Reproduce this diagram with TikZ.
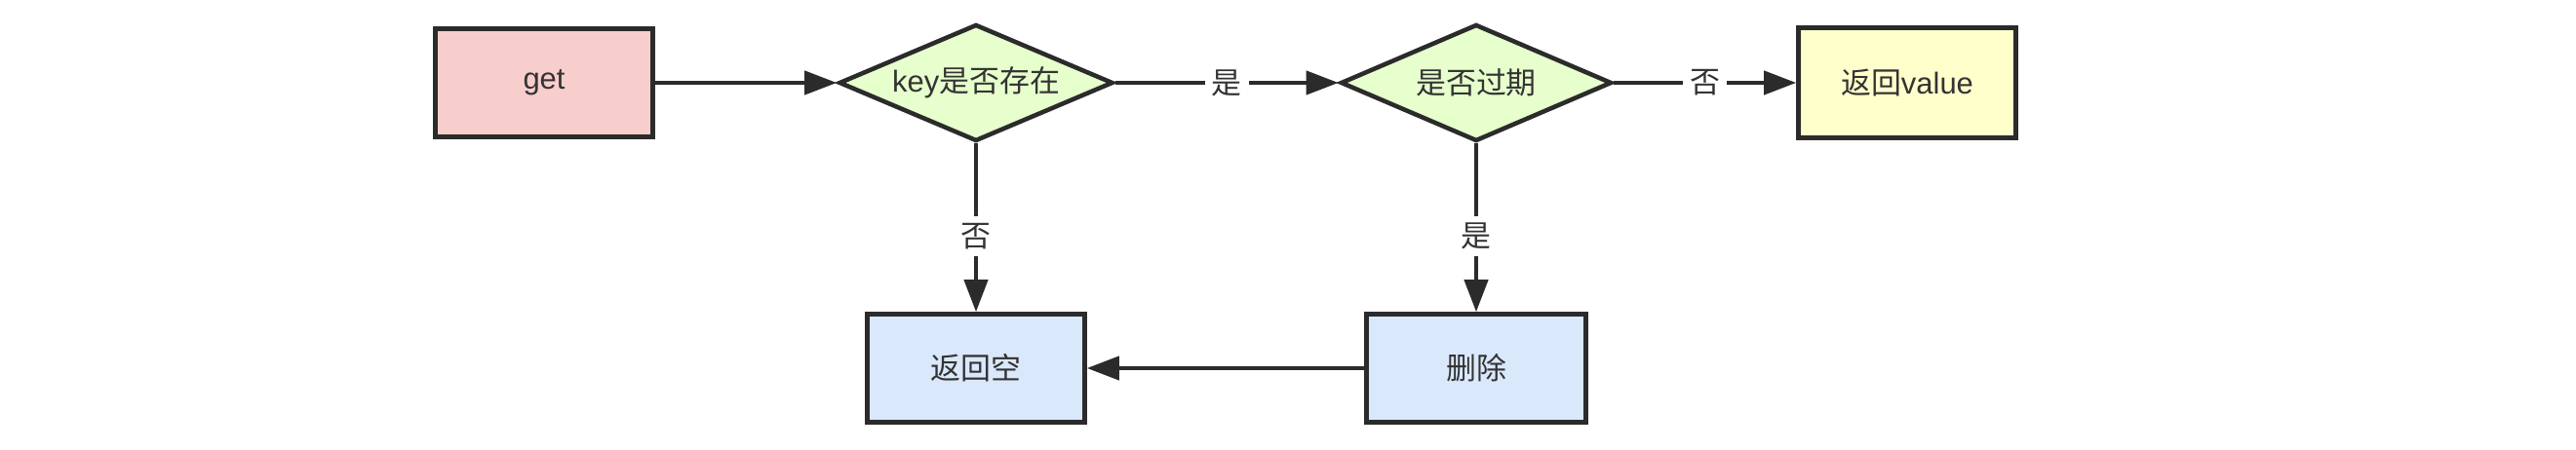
\documentclass[tikz,border=0pt]{standalone}
\usepackage{fontspec}
\setmainfont{Liberation Sans}
\newfontfamily\cjk{Noto Sans CJK SC}
\usepackage{tikz}
\usetikzlibrary{arrows.meta,calc,positioning,shapes.geometric}
\definecolor{Ink}{HTML}{2B2B2B}
\definecolor{TextInk}{HTML}{333333}
\definecolor{GetPink}{HTML}{F8CECC}
\definecolor{CheckGreen}{HTML}{E6FFCC}
\definecolor{ValueYellow}{HTML}{FFFFCC}
\definecolor{StepBlue}{HTML}{DAE8FC}

\begin{document}
\begin{tikzpicture}[font=\fontsize{8.8}{10}\selectfont, text=TextInk,
    box/.style={rectangle,draw=Ink,line width=1.3pt,minimum width=2.23cm,minimum height=1.11cm,inner sep=0pt},
    check/.style={diamond,draw=Ink,line width=1.3pt,fill=CheckGreen,aspect=2.3,minimum height=1.2cm,inner sep=0pt},
    flow/.style={draw=Ink,line width=1.2pt,-{Triangle[length=3.3mm,width=2.4mm]}},
    yesno/.style={fill=white,inner sep=2pt,font=\fontsize{8.8}{10}\selectfont\cjk}]
    \useasboundingbox (0,0) rectangle (26.42,4.62);
    \node[box,fill=GetPink] (get) at (5.58,3.77) {get};
    \node[check,minimum width=2.81cm] (exists) at (10.01,3.77) {key{\cjk 是否存在}};
    \node[check,minimum width=2.78cm] (expired) at (15.14,3.77) {\cjk 是否过期};
    \node[box,fill=ValueYellow,minimum height=1.13cm] (value) at (19.56,3.77) {{\cjk 返回}value};
    \node[box,fill=StepBlue] (empty) at (10.01,0.84) {\cjk 返回空};
    \node[box,fill=StepBlue,minimum width=2.25cm] (remove) at (15.14,0.84) {\cjk 删除};
    \draw[flow] (get) -- (exists);
    \draw[flow] (exists) -- node[yesno] {是} (expired);
    \draw[flow] (expired) -- node[yesno] {否} (value);
    \draw[flow] (exists) -- node[yesno,pos=0.55] {否} (empty);
    \draw[flow] (expired) -- node[yesno,pos=0.55] {是} (remove);
    \draw[flow] (remove) -- (empty);
  \end{tikzpicture}
\end{document}
